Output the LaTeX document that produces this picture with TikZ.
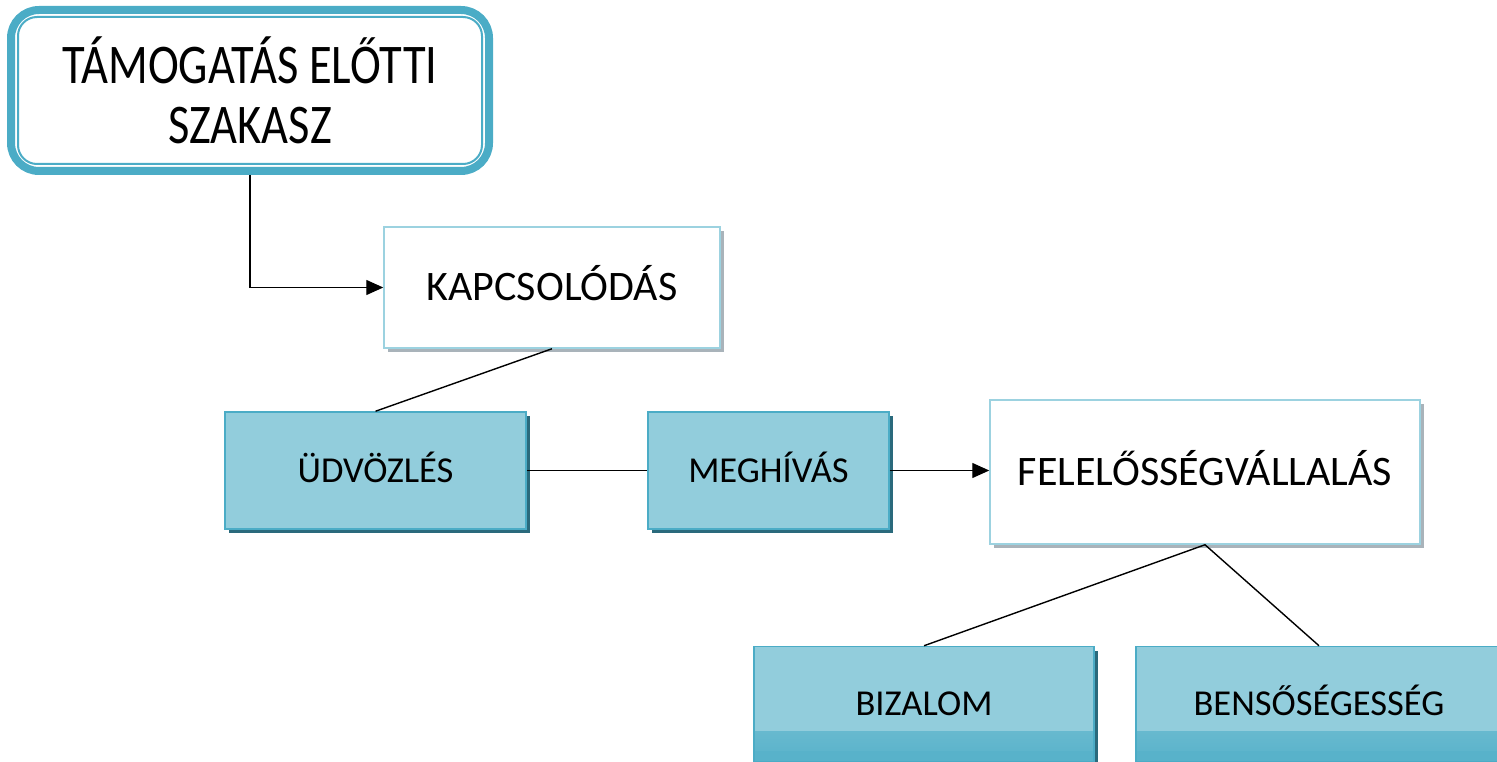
\documentclass[tikz,border=0pt]{standalone}
\usepackage{fontspec}
\setmainfont{Carlito}
\usetikzlibrary{shadows,arrows.meta}
\definecolor{bfill}{HTML}{92CDDC}
\definecolor{bdark}{HTML}{4BACC6}
\definecolor{bgrad}{HTML}{58B2CA}
\definecolor{bshadow}{HTML}{2A6A7C}
\definecolor{wborder}{HTML}{9CD2E0}
\definecolor{wshadow}{HTML}{A9B3BA}
\tikzset{
  whitebox/.style={rectangle, draw=wborder, line width=1.5pt, fill=white,
    general shadow={shadow xshift=4pt, shadow yshift=-4pt, fill=wshadow},
    inner sep=0pt, align=center, text height=27pt, text depth=0pt,
    font=\fontsize{42}{46}\selectfont},
  bluebox/.style={rectangle, draw=bdark, line width=1.5pt, fill=bfill,
    general shadow={shadow xshift=4pt, shadow yshift=-4pt, fill=bshadow},
    inner sep=0pt, align=center, text height=23.5pt, text depth=0pt,
    font=\fontsize{36.5}{40}\selectfont},
  gradbottom/.style={path picture={\shade[top color=bfill, bottom color=bgrad]
      ([yshift=30pt]path picture bounding box.south west) rectangle
      ([yshift=10pt]path picture bounding box.south east);
      \fill[bgrad] ([yshift=10.2pt]path picture bounding box.south west) rectangle
      (path picture bounding box.south east);}},
  conn/.style={line width=1.4pt, black},
  arr/.style={conn, -{Triangle[length=17pt,width=15pt]}},
}
\begin{document}
\begin{tikzpicture}[x=1pt,y=-1pt]
\useasboundingbox (0,0) rectangle (1497,762);
\clip (0,0) rectangle (1497,762);
\node[rectangle, rounded corners=28pt, draw=bdark, line width=8pt, fill=white,
  minimum width=478pt, minimum height=161pt, align=center,
  font=\fontsize{56}{60}\selectfont] (top) at (250,90.5)
  {\scalebox{0.83}[1]{TÁMOGATÁS ELŐTTI}\\\scalebox{0.83}[1]{SZAKASZ}};
\draw[bdark, line width=2pt, rounded corners=19pt]
  ([xshift=11pt,yshift=-11pt]top.north west) rectangle ([xshift=-11pt,yshift=11pt]top.south east);
\node[whitebox, minimum width=336pt, minimum height=121pt] (kap) at (552,287.5) {KAPCSOLÓDÁS};
\node[bluebox, minimum width=301pt, minimum height=117pt] (udv) at (375.5,470.5) {ÜDVÖZLÉS};
\node[bluebox, minimum width=241pt, minimum height=117pt] (meg) at (768.5,470.5) {MEGHÍVÁS};
\node[whitebox, minimum width=430pt, minimum height=144pt] (fel) at (1205,472) {FELELŐSSÉGVÁLLALÁS};
\node[bluebox, gradbottom, minimum width=340pt, minimum height=115pt] (biz) at (924,704) {BIZALOM};
\node[bluebox, gradbottom, minimum width=366pt, minimum height=115pt] (ben) at (1319,704) {BENSŐSÉGESSÉG};
\draw[arr] (top.south) |- (kap.west);
\draw[conn] (kap.south) -- (udv.north);
\draw[conn] (udv.east) -- (meg.west);
\draw[arr] (meg.east) -- (meg.east -| fel.west);
\draw[conn] (fel.south) -- (biz.north);
\draw[conn] (fel.south) -- (ben.north);
\end{tikzpicture}
\end{document}
